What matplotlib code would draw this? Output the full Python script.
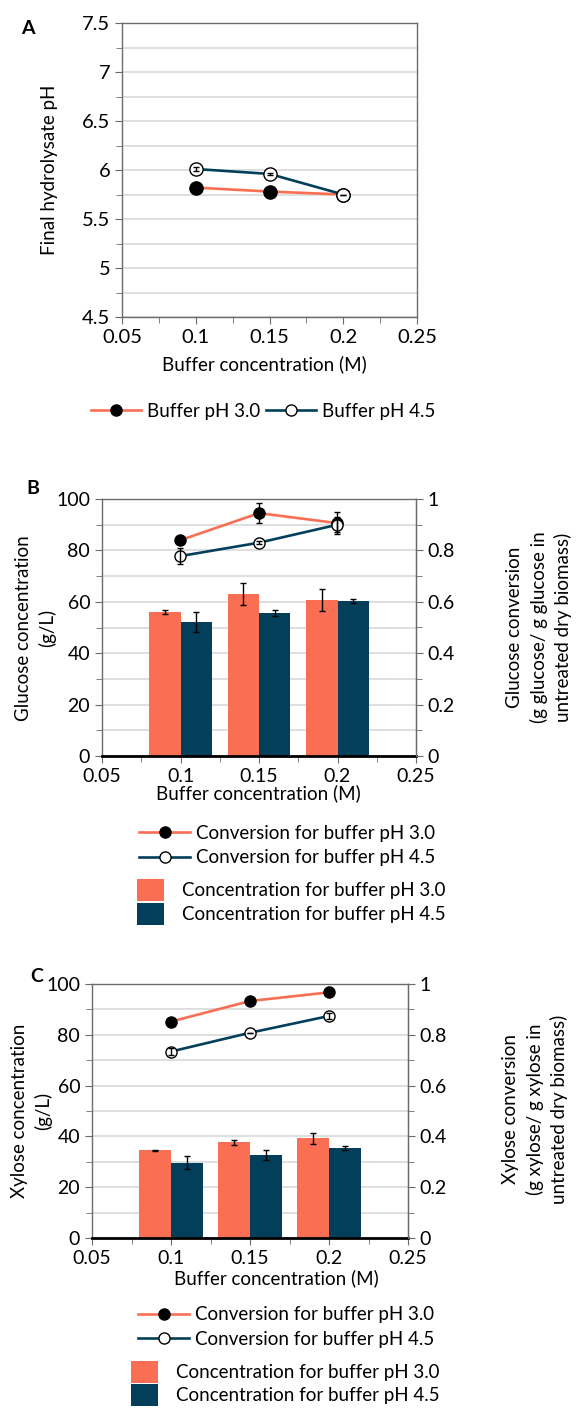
import matplotlib.pyplot as plt
from matplotlib.ticker import MultipleLocator, FuncFormatter
from matplotlib.lines import Line2D
from matplotlib.patches import Patch

plt.rcParams['font.family'] = ['Lato', 'DejaVu Sans']

W, H = 579, 1410

# buffer concentrations (M)
buffer_conc = [0.1, 0.15, 0.2]

# A: final hydrolysate pH
ph_final_30 = [5.82, 5.78, 5.75]
ph_final_45 = [6.01, 5.96, 5.75]
ph_final_45_err = [0.02, 0.01, 0.0]

# B: glucose concentration (g/L) and conversion
glc_conc_30 = [56.1, 63.1, 60.8]
glc_conc_30_err = [0.9, 4.2, 4.3]
glc_conc_45 = [52.1, 55.6, 60.3]
glc_conc_45_err = [3.8, 1.2, 0.9]
glc_conv_30 = [0.84, 0.945, 0.906]
glc_conv_30_err = [0.0, 0.04, 0.042]
glc_conv_45 = [0.778, 0.83, 0.90]
glc_conv_45_err = [0.03, 0.006, 0.03]

# C: xylose concentration (g/L) and conversion
xyl_conc_30 = [34.5, 37.6, 39.3]
xyl_conc_30_err = [0.3, 0.9, 2.1]
xyl_conc_45 = [29.7, 32.7, 35.4]
xyl_conc_45_err = [2.4, 2.0, 0.8]
xyl_conv_30 = [0.852, 0.933, 0.967]
xyl_conv_30_err = [0.0, 0.0, 0.015]
xyl_conv_45 = [0.734, 0.808, 0.874]
xyl_conv_45_err = [0.015, 0.0, 0.01]

SALMON = '#FA6E53'
NAVY = '#033E5B'
SPINE = '#6B6B6B'
GRID = '#D9D9D9'

fmt = FuncFormatter(lambda v, p: '%g' % round(v, 3))

fig = plt.figure(figsize=(W / 100, H / 100), dpi=100)


def px_axes(l, t, r, b):
    return fig.add_axes([l / W, 1 - b / H, (r - l) / W, (b - t) / H])


def px_text(x, y, s, **kw):
    fig.text(x / W, 1 - y / H, s, **kw)


def style_axes(ax, fs):
    for s in ax.spines.values():
        s.set_color(SPINE)
        s.set_linewidth(1)
    ax.tick_params(which='both', direction='out', color=SPINE, labelsize=fs, pad=3.5)
    ax.tick_params(which='major', length=5)
    ax.tick_params(which='minor', length=4)
    ax.set_xlim(0.05, 0.25)
    ax.xaxis.set_major_locator(MultipleLocator(0.05))
    ax.xaxis.set_minor_locator(MultipleLocator(0.025))
    ax.xaxis.set_major_formatter(fmt)
    ax.yaxis.set_major_formatter(fmt)
    ax.grid(which='both', axis='y', color=GRID, lw=1.2)
    ax.set_axisbelow(True)


def pH_line(ax, y, color, filled, ms, err=None):
    ax.plot(buffer_conc, y, color=color, lw=1.9, marker='o', ms=ms,
            mfc='k' if filled else 'white', mec='k', mew=1, zorder=3)
    if err is not None:
        ax.errorbar(buffer_conc, y, yerr=err, fmt='none', ecolor='k',
                    elinewidth=1, capsize=2, capthick=1, zorder=4)


# ---------------- A ----------------
axA = px_axes(122, 23, 417, 317)
style_axes(axA, 14.5)
axA.set_ylim(4.5, 7.5)
axA.yaxis.set_major_locator(MultipleLocator(0.5))
axA.yaxis.set_minor_locator(MultipleLocator(0.25))
pH_line(axA, ph_final_30, SALMON, True, 9.5)
pH_line(axA, ph_final_45, NAVY, False, 9.5, ph_final_45_err)
px_text(28, 28, 'A', fontsize=14, fontweight='bold', ha='center', va='center')
px_text(50, 170, 'Final hydrolysate pH', fontsize=13.5, rotation=90, ha='center', va='center')
px_text(264, 364, 'Buffer concentration (M)', fontsize=13.5, ha='center', va='center')

line_30 = Line2D([], [], color=SALMON, lw=1.9, marker='o', ms=8, mfc='k', mec='k')
line_45 = Line2D([], [], color=NAVY, lw=1.9, marker='o', ms=8, mfc='white', mec='k')
fig.legend([line_30, line_45], ['Buffer pH 3.0', 'Buffer pH 4.5'], ncol=2,
           loc='center', bbox_to_anchor=(263 / W, 1 - 411 / H), frameon=False,
           fontsize=13.5, handlelength=2.7, handletextpad=0.3, columnspacing=0.3,
           borderpad=0)


def sugar_panel(box, conc30, conc30e, conc45, conc45e, conv30, conv30e, conv45, conv45e):
    ax = px_axes(*box)
    style_axes(ax, 14)
    ax.set_ylim(0, 100)
    ax.yaxis.set_major_locator(MultipleLocator(20))
    ax.yaxis.set_minor_locator(MultipleLocator(10))
    ax.spines['bottom'].set_color('k')
    ax.spines['bottom'].set_linewidth(2)
    x30 = [c - 0.01 for c in buffer_conc]
    x45 = [c + 0.01 for c in buffer_conc]
    ax.bar(x30, conc30, width=0.02, color=SALMON, zorder=2)
    ax.bar(x45, conc45, width=0.02, color=NAVY, zorder=2)
    ax.errorbar(x30, conc30, yerr=conc30e, fmt='none', ecolor='k',
                elinewidth=1, capsize=2, capthick=1, zorder=3)
    ax.errorbar(x45, conc45, yerr=conc45e, fmt='none', ecolor='k',
                elinewidth=1, capsize=2, capthick=1, zorder=3)

    ax2 = ax.twinx()
    ax2.set_ylim(0, 1)
    ax2.yaxis.set_major_locator(MultipleLocator(0.2))
    ax2.yaxis.set_minor_locator(MultipleLocator(0.1))
    ax2.yaxis.set_major_formatter(fmt)
    for s in ax2.spines.values():
        s.set_visible(False)
    ax2.spines['right'].set_visible(True)
    ax2.spines['right'].set_color(SPINE)
    ax2.tick_params(which='both', direction='out', color=SPINE, labelsize=14, pad=3.5)
    ax2.tick_params(which='major', length=5)
    ax2.tick_params(which='minor', length=4)
    pH_line(ax2, conv30, SALMON, True, 8, conv30e)
    pH_line(ax2, conv45, NAVY, False, 8, conv45e)
    return ax


def sugar_legend(x_line, y_line, x_bar, y_bar):
    fig.legend([line_30, line_45],
               ['Conversion for buffer pH 3.0', 'Conversion for buffer pH 4.5'],
               loc='center left', bbox_to_anchor=(x_line / W, 1 - y_line / H),
               frameon=False, fontsize=13.5, handlelength=2.7, handletextpad=0.3,
               labelspacing=0.4, borderpad=0)
    fig.legend([Patch(facecolor=SALMON), Patch(facecolor=NAVY)],
               ['Concentration for buffer pH 3.0', 'Concentration for buffer pH 4.5'],
               loc='center left', bbox_to_anchor=(x_bar / W, 1 - y_bar / H),
               frameon=False, fontsize=13.5, handlelength=1.4, handleheight=1.4,
               handletextpad=1.0, labelspacing=0.1, borderpad=0)


# ---------------- B ----------------
sugar_panel((102, 499, 416, 756), glc_conc_30, glc_conc_30_err, glc_conc_45, glc_conc_45_err,
            glc_conv_30, glc_conv_30_err, glc_conv_45, glc_conv_45_err)
px_text(33, 488, 'B', fontsize=14, fontweight='bold', ha='center', va='center')
px_text(36, 628, 'Glucose concentration\n(g/L)', fontsize=13.5, rotation=90,
        ha='center', va='center', multialignment='center', linespacing=1.4)
px_text(539, 627, 'Glucose conversion\n(g glucose/ g glucose in\nuntreated dry biomass)',
        fontsize=13.5, rotation=90, ha='center', va='center', multialignment='center',
        linespacing=1.45)
px_text(258, 793, 'Buffer concentration (M)', fontsize=13.5, ha='center', va='center')
sugar_legend(130, 845.5, 128, 902)

# ---------------- C ----------------
sugar_panel((92, 984, 408, 1238), xyl_conc_30, xyl_conc_30_err, xyl_conc_45, xyl_conc_45_err,
            xyl_conv_30, xyl_conv_30_err, xyl_conv_45, xyl_conv_45_err)
px_text(37, 977, 'C', fontsize=14, fontweight='bold', ha='center', va='center')
px_text(32, 1111, 'Xylose concentration\n(g/L)', fontsize=13.5, rotation=90,
        ha='center', va='center', multialignment='center', linespacing=1.4)
px_text(535, 1109, 'Xylose conversion\n(g xylose/ g xylose in\nuntreated dry biomass)',
        fontsize=13.5, rotation=90, ha='center', va='center', multialignment='center',
        linespacing=1.4)
px_text(276, 1278, 'Buffer concentration (M)', fontsize=13.5, ha='center', va='center')
sugar_legend(129, 1327, 122, 1383.5)

fig.savefig('out.png', dpi=100)
